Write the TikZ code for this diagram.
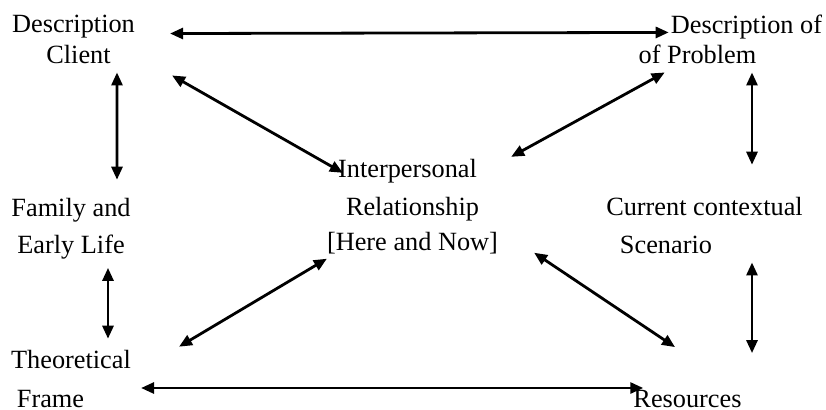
\documentclass[tikz,border=0pt]{standalone}
\usepackage{fontspec}
\setmainfont{Liberation Serif}
\usetikzlibrary{arrows.meta}

\begin{document}
\begin{tikzpicture}[x=1bp, y=-1bp,
    every node/.style={inner sep=0pt, anchor=base, align=center,
      font=\fontsize{26.4}{37}\selectfont},
    twoway/.style={line width=2.8bp,
      {Triangle[length=13bp,width=11bp]}-{Triangle[length=13bp,width=11bp]}}]
    \useasboundingbox (0,0) rectangle (826,409);

    % base = baseline of the last line
    \node (DC) at (73.5, 63) {Description\\[-6bp]\hspace*{10bp}Client};
    \node (DP) at (746.5, 63) {Description of\\[-7bp]\hspace*{-98bp}of Problem};
    \node (IP) at (412.5, 250) {\hspace*{-10bp}Interpersonal\\[1bp]Relationship\\[-2bp][Here and Now]};
    \node (FL) at (71, 253) {Family and\\Early Life};
    \node (CS) at (704.5, 253) {Current contextual\\[1bp]\hspace*{-77bp}Scenario};
    \node (TF) at (71, 407) {Theoretical\\[2bp]\hspace*{-41bp}Frame};
    \node (RS) at (687.5, 407) {Resources};

    \draw[twoway] ([shift={(35,19)}]DC.north east) -- ([shift={(-2,18)}]DP.north west);
    \draw[twoway] ([shift={(37,12)}]DC.south east) -- ([shift={(16,14)}]IP.north west);
    \draw[twoway] ([shift={(-6,9)}]DP.south west) -- ([shift={(13,-2)}]IP.north east);

    \draw[twoway] ([shift={(43.5,9)}]DC.south) -- ([shift={(46,-18)}]FL.north);
    \draw[twoway] ([shift={(5.5,9)}]DP.south) -- ([shift={(47.5,-32)}]CS.north);
    \draw[twoway] ([shift={(37,9)}]FL.south) -- ([shift={(37,-11)}]TF.north);

    \draw[twoway] ([shift={(48,-3)}]TF.north east) -- ([shift={(0,5)}]IP.south west);
    \draw[twoway] ([shift={(36,-1)}]IP.south east) -- ([shift={(-12.5,-42.5)}]RS.north);
    \draw[twoway] ([shift={(47.5,9)}]CS.south) -- ([shift={(64.5,-36.5)}]RS.north);
    \draw[twoway] ([shift={(10,-19)}]TF.base east) -- ([shift={(10,-19)}]RS.base west);
\end{tikzpicture}
\end{document}
